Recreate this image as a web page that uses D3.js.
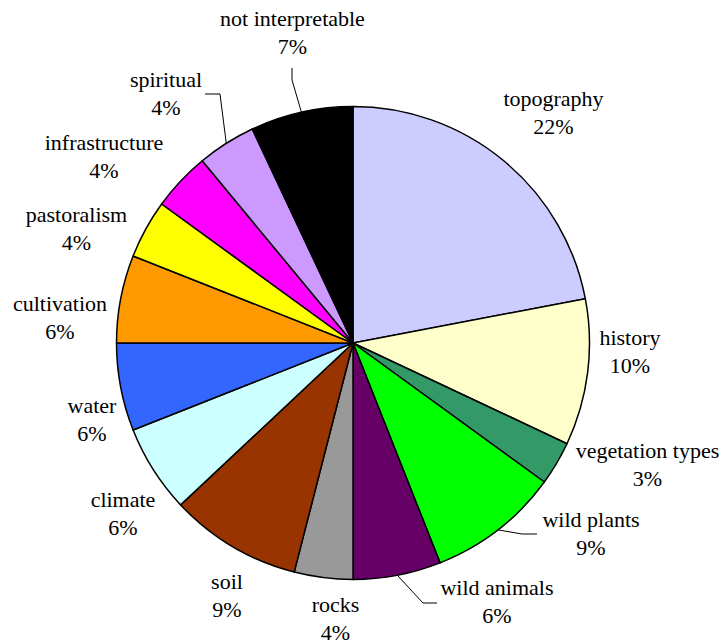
<!DOCTYPE html>
<html><head><meta charset="utf-8"><script src="https://cdn.jsdelivr.net/npm/d3@7"></script></head>
<body style="margin:0">
<svg id="chart" width="723" height="644" font-family="Liberation Serif"></svg>
<script>
// Share of responses by theme, clockwise from 12 o'clock
const categories = [
  "topography", "history", "vegetation types", "wild plants", "wild animals",
  "rocks", "soil", "climate", "water", "cultivation", "pastoralism",
  "infrastructure", "spiritual", "not interpretable"
];
const values = [22, 10, 3, 9, 6, 4, 9, 6, 6, 6, 4, 4, 4, 7];
const percentLabels = values.map(v => v + "%");

const colors = [
  "#CCCCFF", "#FFFFCC", "#339966", "#00FF00", "#660066",
  "#999999", "#993300", "#CCFFFF", "#3366FF", "#FF9900", "#FFFF00",
  "#FF00FF", "#CC99FF", "#000000"
];

// Label anchors (centre x, first-line baseline) and optional leader elbows
const labelLayout = {
  "topography":        { x: 553.5, y: 106 },
  "history":           { x: 630,   y: 345 },
  "vegetation types":  { x: 647.5, y: 458 },
  "wild plants":       { x: 591,   y: 527, leader: [[522, 534], [537, 534]] },
  "wild animals":      { x: 497,   y: 595, leader: [[423, 603], [437, 603]] },
  "rocks":             { x: 335.5, y: 612 },
  "soil":              { x: 227,   y: 589 },
  "climate":           { x: 123,   y: 507 },
  "water":             { x: 92,    y: 413 },
  "cultivation":       { x: 60,    y: 311 },
  "pastoralism":       { x: 76.5,  y: 222 },
  "infrastructure":    { x: 104,   y: 150 },
  "spiritual":         { x: 166,   y: 87,  leader: [[220, 94], [205, 94]] },
  "not interpretable": { x: 292.5, y: 26,  leader: [[292, 80], [292, 68]] }
};

const cx = 353, cy = 343, radius = 236.5, lineGap = 28;

const svg = d3.select("#chart");
const g = svg.append("g").attr("transform", `translate(${cx},${cy})`);

const data = categories.map((c, i) => ({ name: c, value: values[i], color: colors[i], pct: percentLabels[i] }));

const pie = d3.pie().value(d => d.value).sort(null).startAngle(0).endAngle(2 * Math.PI);
const arcs = pie(data);
const arc = d3.arc().innerRadius(0).outerRadius(radius);

g.selectAll("path.slice")
  .data(arcs)
  .enter().append("path")
  .attr("class", "slice")
  .attr("d", arc)
  .attr("fill", d => d.data.color)
  .attr("stroke", "#000")
  .attr("stroke-width", 1.5)
  .attr("stroke-linejoin", "round");

// Leader lines from the slice's outer edge to its label
const line = d3.line();
arcs.forEach(a => {
  const lay = labelLayout[a.data.name];
  if (!lay.leader) return;
  const mid = (a.startAngle + a.endAngle) / 2;
  const edge = [cx + radius * Math.sin(mid), cy - radius * Math.cos(mid)];
  svg.append("path")
    .attr("d", line([edge, ...lay.leader]))
    .attr("fill", "none")
    .attr("stroke", "#000")
    .attr("stroke-width", 1);
});

// Two-line labels: name, then percentage
arcs.forEach(a => {
  const lay = labelLayout[a.data.name];
  [a.data.name, a.data.pct].forEach((t, k) => {
    svg.append("text")
      .attr("x", lay.x)
      .attr("y", lay.y + k * lineGap)
      .attr("text-anchor", "middle")
      .attr("font-family", "Liberation Serif")
      .style("font-family", "Liberation Serif")
      .attr("font-size", 22)
      .attr("fill", "#000")
      .text(t);
  });
});
</script>
</body>
</html>
